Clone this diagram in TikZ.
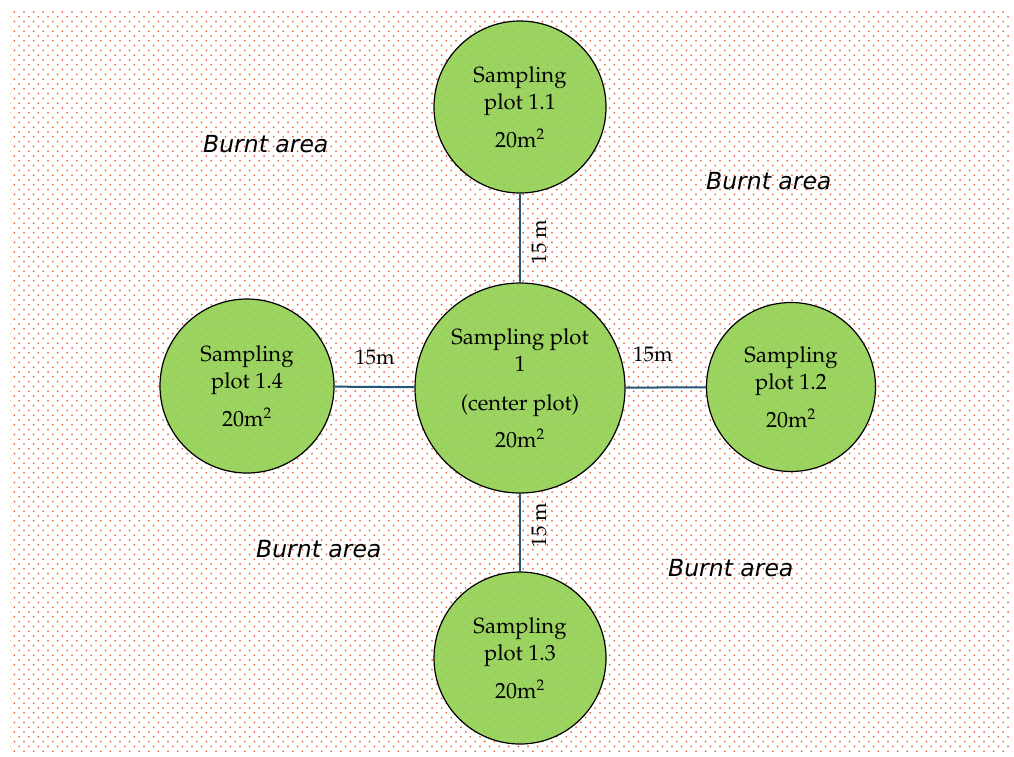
\documentclass[tikz,border=0pt]{standalone}
\usepackage[T1]{fontenc}
\usepackage{fontspec}
\newfontfamily\areafont{DejaVu Sans}
\newcommand\palfont{\fontencoding{T1}\fontfamily{ppl}\selectfont}
\usetikzlibrary{patterns.meta}

\definecolor{plotgreen}{RGB}{146,208,80}
\definecolor{linkblue}{RGB}{36,86,122}
\definecolor{dotc}{RGB}{228,104,62}

% staggered dot grid for the burnt ground
\tikzdeclarepattern{
  name=emberdots,
  type=uncolored,
  bounding box={(-1.2pt,-1.2pt) and (6pt,6pt)},
  tile size={(9.6pt,9.6pt)},
  code={
    \fill (0pt,0pt) circle (1pt);
    \fill (4.8pt,4.8pt) circle (1pt);
  }
}

\tikzset{
  plotc/.style={circle, draw=black, line width=1.2pt, fill=plotgreen,
    fill opacity=0.9, text opacity=1, inner sep=0pt, align=center,
    font=\palfont\fontsize{22}{27}\selectfont},
  link/.style={draw=linkblue, line width=2pt},
  dist/.style={font=\palfont\fontsize{21}{24}\selectfont, inner sep=0pt},
  burnt/.style={font=\areafont\itshape\fontsize{23.5}{26}\selectfont,
    inner sep=0pt, anchor=west},
}

\begin{document}
\begin{tikzpicture}[x=1pt, y=-1pt]
\useasboundingbox (0,0) rectangle (1014,756);
\fill[white] (0,0) rectangle (1014,756);

% burnt ground
\fill[pattern=emberdots, pattern color=dotc] (10,10) rectangle (1012,753);

% sampling plots
\node[plotc, minimum size=210pt] (c1) at (520,388)
  {Sampling plot\\1\\[12pt](center plot)\\[10pt]20m\textsuperscript{2}};
\node[plotc, minimum size=172pt] (c11) at (520,107)
  {Sampling\\plot 1.1\\[11pt]20m\textsuperscript{2}};
\node[plotc, minimum size=169pt] (c12) at (791,387)
  {Sampling\\plot 1.2\\[11pt]20m\textsuperscript{2}};
\node[plotc, minimum size=172pt] (c13) at (520,658)
  {Sampling\\plot 1.3\\[11pt]20m\textsuperscript{2}};
\node[plotc, minimum size=174pt] (c14) at (247,386)
  {Sampling\\plot 1.4\\[11pt]20m\textsuperscript{2}};

% transects
\draw[link] (c11) -- (c1);
\draw[link] (c1) -- (c13);
\draw[link] (c14) -- (c1);
\draw[link] (c1) -- (c12);

% distances
\node[dist, rotate=90] (d1) at (539,242) {15 m};
\node[dist, rotate=90] (d3) at (539,525) {15 m};
\node[dist] (d4) at (375,357) {15m};
\node[dist] (d2) at (653,354) {15m};

% area labels
\node[burnt] (b1) at (203,144) {Burnt area};
\node[burnt] (b2) at (706,181) {Burnt area};
\node[burnt] (b3) at (256,549) {Burnt area};
\node[burnt] (b4) at (668,568) {Burnt area};
\end{tikzpicture}
\end{document}
